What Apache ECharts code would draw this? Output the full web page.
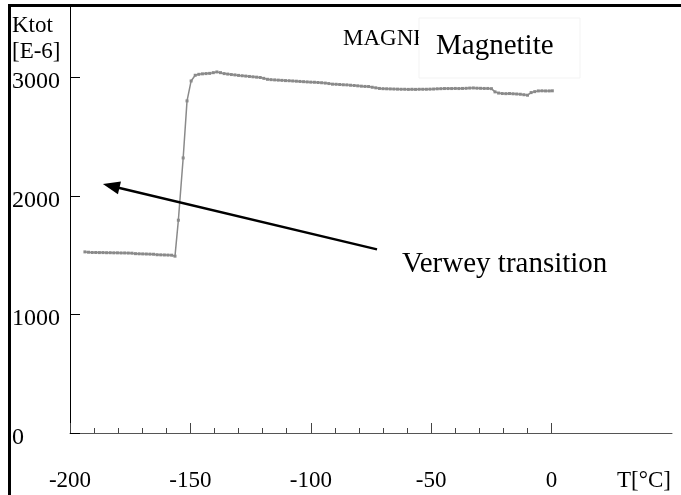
<!DOCTYPE html>
<html>
<head>
<meta charset="utf-8">
<script src="https://cdn.jsdelivr.net/npm/echarts@6/dist/echarts.min.js"></script>
<style>
  html, body { margin: 0; padding: 0; background: #ffffff; }
  #chart { width: 681px; height: 495px; }
</style>
</head>
<body>
<div id="chart"></div>
<script>
// Temperature (°C) of each measurement
const temps = [
  -193.8, -192.3, -190.8, -189.3, -187.8, -186.3, -184.8, -183.3, -181.8, -180.3,
  -178.8, -177.3, -175.8, -174.3, -172.8, -171.3, -169.8, -168.3, -166.8, -165.3,
  -163.8, -162.3, -160.8, -159.3, -157.8, -156.4,
  -155.0, -153.0, -151.4, -149.7, -148.0, -146.5, -145.0, -143.5, -142.0, -140.5,
  -139.0, -137.5, -136.0, -134.5, -133.0, -131.5, -130.0, -128.5, -127.0, -125.5,
  -124.0, -122.5, -121.0, -119.5, -118.0, -116.5, -115.0, -113.5, -112.0, -110.5,
  -109.0, -107.5, -106.0, -104.5, -103.0, -101.5, -100.0, -98.5, -97.0, -95.5,
  -94.0, -92.5, -91.0, -89.5, -88.0, -86.5, -85.0, -83.5, -82.0, -80.5,
  -79.0, -77.5, -76.0, -74.5, -73.0, -71.5, -70.0, -68.5, -67.0, -65.5,
  -64.0, -62.5, -61.0, -59.5, -58.0, -56.5, -55.0, -53.5, -52.0, -50.5,
  -49.0, -47.5, -46.0, -44.5, -43.0, -41.5, -40.0, -38.5, -37.0, -35.5,
  -34.0, -32.5, -31.0, -29.5, -28.0, -26.5, -25.0, -23.5, -22.0, -20.5,
  -19.0, -17.5, -16.0, -14.5, -13.0, -11.5, -10.0, -8.5, -7.0, -5.5,
  -4.0, -2.5, -1.0, 0.3
];

// Total susceptibility Ktot [E-6]
const ktot = [
  1527, 1524, 1522, 1522, 1521, 1521, 1520, 1520, 1519, 1519,
  1518, 1518, 1517, 1516, 1512, 1511, 1510, 1509, 1508, 1507,
  1503, 1502, 1501, 1500, 1499, 1491,
  1794, 2319, 2800, 2968, 3016, 3024, 3028, 3030, 3032, 3038,
  3044, 3038, 3030, 3026, 3022, 3019, 3015, 3012, 3009, 3006,
  3003, 3000, 2997, 2990, 2982, 2979, 2977, 2975, 2973, 2971,
  2970, 2968, 2966, 2964, 2962, 2960, 2958, 2957, 2955, 2953,
  2950, 2946, 2941, 2940, 2938, 2936, 2935, 2932, 2930, 2927,
  2924, 2922, 2921, 2915, 2910, 2905, 2903, 2902, 2901, 2900,
  2899, 2898, 2898, 2897, 2898, 2897, 2898, 2898, 2898, 2899,
  2900, 2902, 2903, 2904, 2904, 2904, 2905, 2904, 2905, 2906,
  2908, 2909, 2907, 2906, 2905, 2905, 2903, 2876, 2866, 2862,
  2861, 2862, 2860, 2858, 2856, 2852, 2848, 2870, 2878, 2884,
  2885, 2884, 2884, 2885
];

// Tick positions and labels
const xMajorTicks = [-200, -150, -100, -50, 0];
const xMinorTicks = [-190, -180, -170, -160, -140, -130, -120, -110,
                     -90, -80, -70, -60, -40, -30, -20, -10];
const yTicks = [0, 1000, 2000, 3000];

// Arrow pointing at the Verwey transition: [tail, head centre] in data units
const arrowTail = [-72.5, 1548];
const arrowHead = [-182.9, 2083];

const serif = '"Liberation Serif", "DejaVu Serif", serif';

const points = temps.map((t, i) => [t, ktot[i]]);

const chart = echarts.init(document.getElementById('chart'), null, { renderer: 'canvas' });

chart.setOption({
  animation: false,
  backgroundColor: '#ffffff',
  grid: { left: 70, right: 9, top: 6, bottom: 62, containLabel: false },
  xAxis: [
    {
      type: 'value', min: -200, max: 50,
      axisLine: { show: true, onZero: false, lineStyle: { color: '#555', width: 1 } },
      axisTick: { show: true, inside: true, length: 10, customValues: xMajorTicks,
                  lineStyle: { color: '#444', width: 1 } },
      axisLabel: { show: true, customValues: xMajorTicks, margin: 36,
                   fontFamily: serif, fontSize: 23, color: '#000' },
      splitLine: { show: false }
    },
    {
      type: 'value', min: -200, max: 50, position: 'bottom', offset: 0,
      axisLine: { show: false, onZero: false },
      axisTick: { show: true, inside: true, length: 5, customValues: xMinorTicks,
                  lineStyle: { color: '#444', width: 1 } },
      axisLabel: { show: false },
      splitLine: { show: false }
    }
  ],
  yAxis: {
    type: 'value', min: 0, max: 3600,
    axisLine: { show: true, onZero: false, lineStyle: { color: '#000', width: 1 } },
    axisTick: { show: true, inside: true, length: 10, customValues: yTicks,
                lineStyle: { color: '#000', width: 1 } },
    axisLabel: { show: true, customValues: yTicks, align: 'left', margin: 58,
                 verticalAlign: 'top', lineHeight: 9,
                 formatter: (v) => String(v),
                 fontFamily: serif, fontSize: 24, color: '#000' },
    splitLine: { show: false }
  },
  series: [
    {
      type: 'line',
      xAxisIndex: 0,
      data: points,
      symbol: 'rect',
      symbolSize: 3,
      showAllSymbol: true,
      itemStyle: { color: '#8a8a8a' },
      lineStyle: { color: '#8a8a8a', width: 1.5 },
      markLine: {
        silent: true,
        symbol: ['none', 'triangle'],
        symbolSize: [13, 17],
        label: { show: false },
        lineStyle: { color: '#000', width: 2.5, type: 'solid' },
        data: [[{ coord: arrowTail }, { coord: arrowHead }]]
      }
    }
  ],
  graphic: [
    // page frame (left and top edges)
    { type: 'rect', shape: { x: 8, y: 4, width: 3, height: 491 }, style: { fill: '#000' }, z: 100 },
    { type: 'rect', shape: { x: 8, y: 4, width: 673, height: 3 }, style: { fill: '#000' }, z: 100 },
    // axis titles
    { type: 'text', left: 12, top: 14, z: 100,
      style: { text: 'Ktot', font: '23px ' + serif, fill: '#000' } },
    { type: 'text', left: 12, top: 40, z: 100,
      style: { text: '[E-6]', font: '23px ' + serif, fill: '#000' } },
    { type: 'text', left: 617, top: 469, z: 100,
      style: { text: 'T[°C]', font: '23px ' + serif, fill: '#000' } },
    // sample name and caption box
    { type: 'text', left: 343, top: 27, z: 100,
      style: { text: 'MAGNETITE', font: '23px ' + serif, fill: '#000' } },
    { type: 'rect', shape: { x: 419, y: 18, width: 161, height: 60 }, z: 101,
      style: { fill: '#ffffff', stroke: '#f3f3f3', lineWidth: 1 } },
    { type: 'text', left: 436, top: 32, z: 102,
      style: { text: 'Magnetite', font: '29px ' + serif, fill: '#000' } },
    // annotation
    { type: 'text', left: 402, top: 250, z: 100,
      style: { text: 'Verwey transition', font: '29px ' + serif, fill: '#000' } }
  ]
});
</script>
</body>
</html>
